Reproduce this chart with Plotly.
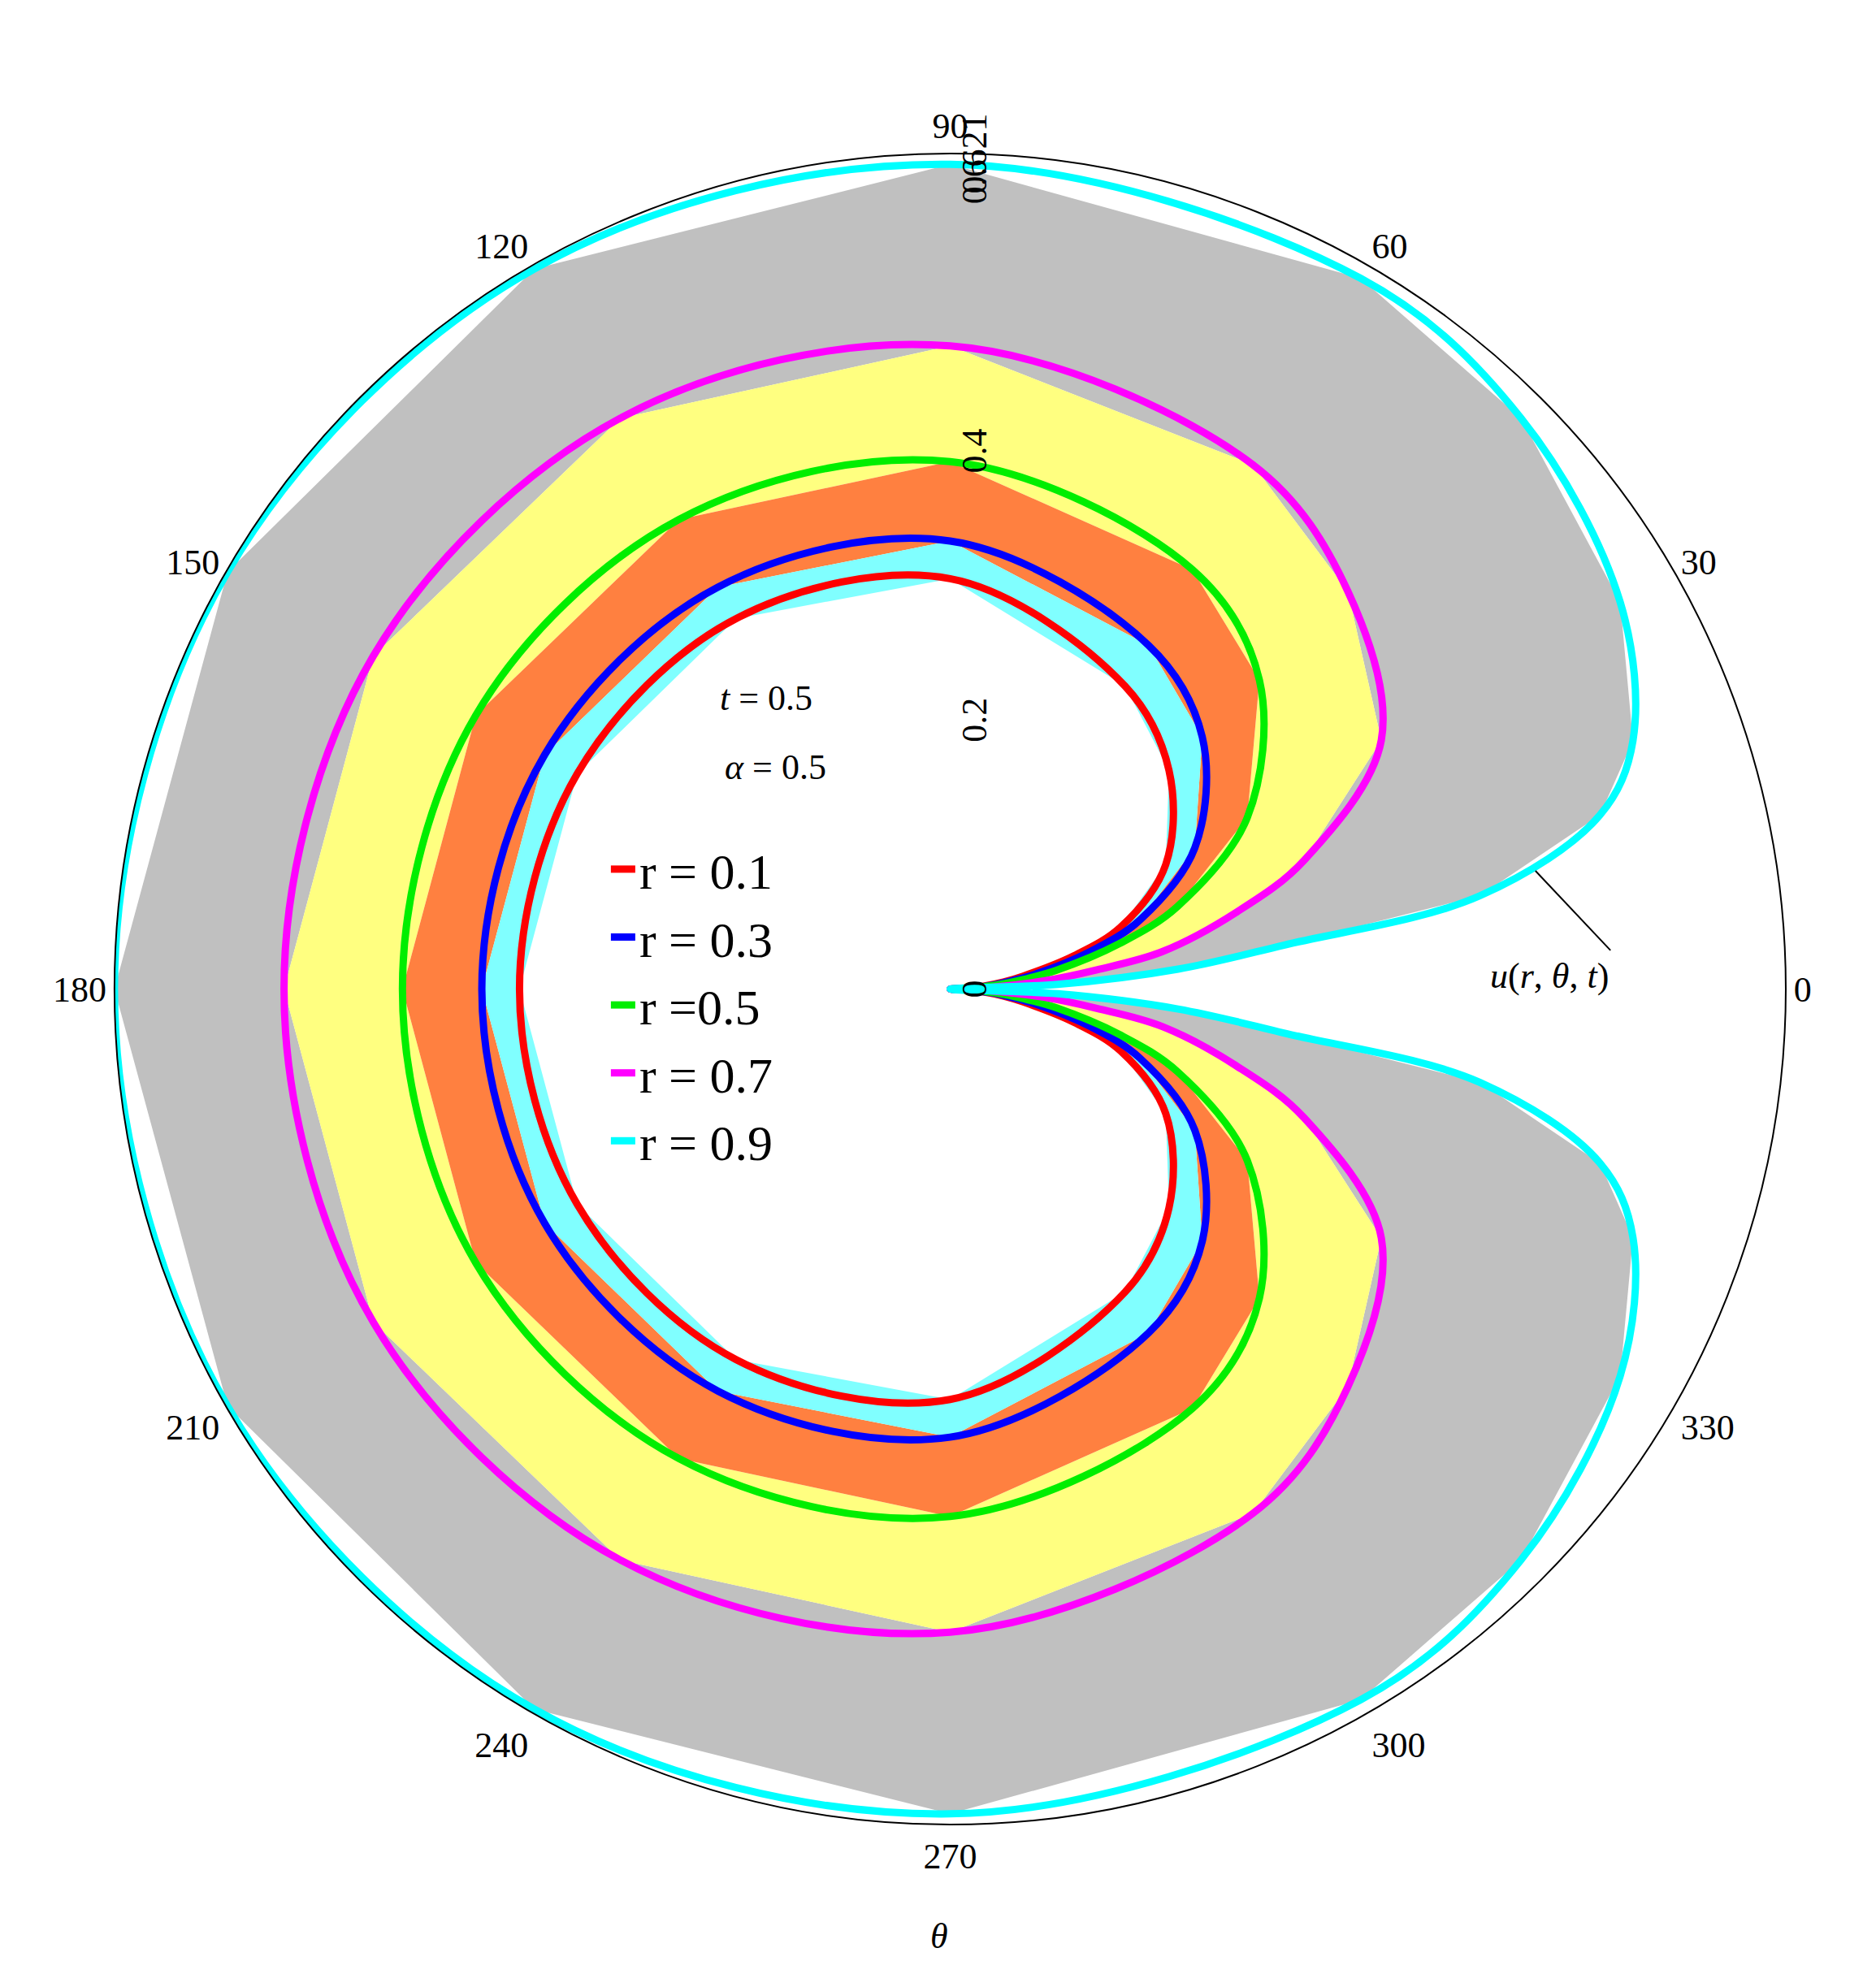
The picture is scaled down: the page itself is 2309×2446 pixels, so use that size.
import plotly.graph_objects as go

# angles (deg) for the upper half; lower half is the mirror image
theta_half = [0, 2.5, 5, 7.5, 10, 15, 20, 30, 45, 60, 90, 120, 150, 180]
u_r01 = [0, 0.01, 0.025, 0.04, 0.055, 0.095, 0.135, 0.185, 0.23, 0.26, 0.305, 0.318, 0.32, 0.32]
u_r03 = [0, 0.012, 0.03, 0.045, 0.065, 0.108, 0.15, 0.21, 0.265, 0.295, 0.333, 0.345, 0.348, 0.348]
u_r05 = [0, 0.015, 0.035, 0.055, 0.08, 0.13, 0.18, 0.255, 0.325, 0.36, 0.392, 0.403, 0.407, 0.407]
u_r07 = [0, 0.03, 0.07, 0.11, 0.16, 0.22, 0.28, 0.37, 0.418, 0.45, 0.478, 0.49, 0.495, 0.495]
u_r09 = [0, 0.08, 0.17, 0.25, 0.4, 0.5, 0.54, 0.575, 0.6, 0.61, 0.613, 0.618, 0.62, 0.621]

series = [("r = 0.1", u_r01, "#ff0000"), ("r = 0.3", u_r03, "#0000ff"),
          ("r =0.5", u_r05, "#00ee00"), ("r = 0.7", u_r07, "#ff00ff"),
          ("r = 0.9", u_r09, "#00ffff")]
bands = [(u_r07, u_r09, "#c0c0c0"), (u_r05, u_r07, "#ffff80"),
         (u_r03, u_r05, "#ff8040"), (u_r01, u_r03, "#80ffff")]


def full(vals):
    th = theta_half + [360 - t for t in theta_half[::-1][1:]]
    return th, vals + vals[::-1][1:]


fig = go.Figure()
for lo, hi, col in bands:
    th_lo, r_lo = full(lo)
    th_hi, r_hi = full(hi)
    fig.add_trace(go.Scatterpolar(r=r_hi + r_lo[::-1], theta=th_hi + th_lo[::-1],
                                  mode="lines", fill="toself", fillcolor=col,
                                  line=dict(width=0), showlegend=False, hoverinfo="skip"))
for name, vals, col in series:
    th, r = full(vals)
    fig.add_trace(go.Scatterpolar(r=r, theta=th, mode="lines", name=name,
                                  line=dict(color=col, width=9, shape="spline")))

font = dict(family="Liberation Serif", size=44, color="black")
fig.update_layout(
    width=2309, height=2446, margin=dict(l=0, r=0, t=0, b=0),
    paper_bgcolor="white", font=font,
    polar=dict(
        domain=dict(x=[0.056, 0.95], y=[0.085, 0.926]),
        bgcolor="white",
        radialaxis=dict(range=[0, 0.621], angle=90, tickangle=0,
                        tickvals=[0, 0.2, 0.4, 0.6, 0.621],
                        ticktext=["0", "0.2", "0.4", "0.6", "0.621"],
                        showgrid=False, showline=False, ticks=""),
        angularaxis=dict(rotation=0, direction="counterclockwise",
                         tickvals=list(range(0, 360, 30)), showgrid=False,
                         linecolor="black", linewidth=2, ticks=""),
    ),
    legend=dict(x=0.32, y=0.585, xanchor="left", yanchor="top",
                bgcolor="rgba(0,0,0,0)", font=dict(family="Liberation Serif", size=62)),
    annotations=[
        dict(x=0.405, y=0.652, xref="paper", yref="paper", showarrow=False,
             text="<i>t</i> = 0.5", font=font),
        dict(x=0.41, y=0.617, xref="paper", yref="paper", showarrow=False,
             text="<i>α</i> = 0.5", font=font),
        dict(x=0.497, y=0.018, xref="paper", yref="paper", showarrow=False,
             text="<i>θ</i>", font=font),
        dict(x=0.855, y=0.512, xref="paper", yref="paper", showarrow=False,
             text="<i>u</i>(<i>r</i>, <i>θ</i>, <i>t</i>)", font=font),
    ],
    shapes=[dict(type="line", xref="paper", yref="paper", x0=0.815, y0=0.565,
                 x1=0.855, y1=0.525, line=dict(color="black", width=2))],
)
fig.write_html("out.html")
